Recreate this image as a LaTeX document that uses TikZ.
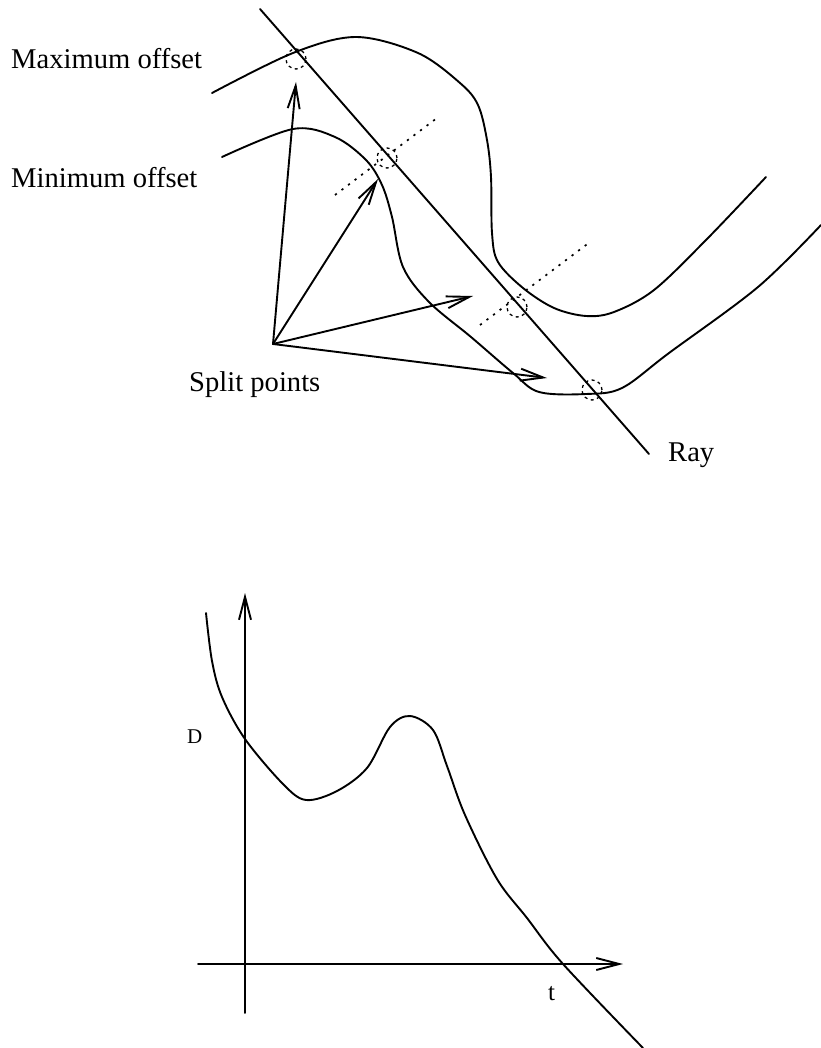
\documentclass[tikz,border=0pt]{standalone}
\usepackage{fontspec}
\setmainfont{Liberation Serif}
\usetikzlibrary{arrows.meta,positioning}

\begin{document}
\begin{tikzpicture}[
    x=1pt, y=-1pt,
    every node/.style={font=\fontsize{28.6}{32}\selectfont, inner sep=0pt},
    line/.style={line width=1.9pt, line cap=round},
    curve/.style={line, smooth, tension=0.55},
    arr/.style={line, -{Straight Barb[length=23pt, width=12pt, line width=1.9pt]}},
    probe/.style={line width=1.7pt, dash pattern=on 2.2pt off 6pt},
    hit/.style={circle, draw, minimum size=20pt, line width=1.3pt, dash pattern=on 3pt off 3.5pt},
    lbl/.style={anchor=base west},
    small/.style={lbl, font=\fontsize{21}{24}\selectfont},
]
\useasboundingbox (0,0) rectangle (820,1048);
% labels
\node[lbl] (maxlbl) at (11,69) {Maximum offset};
\node[lbl] (minlbl) at (11,188) {Minimum offset};
\node[lbl] (splitlbl) at (189,391) {Split points};
\node[lbl] (raylbl) at (668,461) {Ray};
% offset curves
\draw[curve] plot coordinates {(212,93) (293,53) (356,37) (418,53) (460,83) (478,105)
    (487,140) (491,177) (492,233) (498,262) (523,288) (554,308) (586,316) (614,312)
    (654,290) (706,240) (766,177)};
\draw[curve] plot coordinates {(222,157) (293,129) (335,137) (366,160) (382,185)
    (392,217) (403,267) (429,302) (471,337) (513,373) (539,392) (586,394) (622,388)
    (669,353) (758,287) (821,225)};
% ray
\coordinate (raytop) at (260,9);
\coordinate (raybot) at (649,454);
\draw[line] (raytop) -- (raybot);
% probes along the ray
\coordinate (probeAa) at (335,195); \coordinate (probeAb) at (437,118);
\coordinate (probeBa) at (480,325); \coordinate (probeBb) at (590,242);
\draw[probe] (probeAa) -- (probeAb);
\draw[probe] (probeBa) -- (probeBb);
\node[hit] (hit1) at (296,59) {};
\node[hit] (hit2) at (387,158) {};
\node[hit] (hit3) at (517,307) {};
\node[hit] (hit4) at (592,390) {};
% split point vectors
\coordinate (split) at (273,344);
\coordinate (tipA) at (296,82); \coordinate (tipB) at (378,179);
\coordinate (tipC) at (473,296); \coordinate (tipD) at (547,378);
\draw[arr] (split) -- (tipA); \draw[arr] (split) -- (tipB);
\draw[arr] (split) -- (tipC); \draw[arr] (split) -- (tipD);
% distance plot
\coordinate (yaxbot) at (245,1013); \coordinate (yaxtop) at (245,593);
\coordinate (xaxleft) at (198,964); \coordinate (xaxright) at (623,964);
\draw[arr] (yaxbot) -- (yaxtop);
\draw[arr] (xaxleft) -- (xaxright);
\node[small] (dlbl) at (187,743) {D};
\node[lbl, font=\fontsize{25}{28}\selectfont] (tlbl) at (548,1000) {t};
\draw[curve] plot coordinates {(206,613) (212,661) (222,697) (245,739) (283,784)
    (306,800) (337,791) (367,768) (390,727) (410,716) (433,730) (447,766) (465,815)
    (497,879) (527,918) (563,964) (643,1048)};
\end{tikzpicture}
\end{document}
